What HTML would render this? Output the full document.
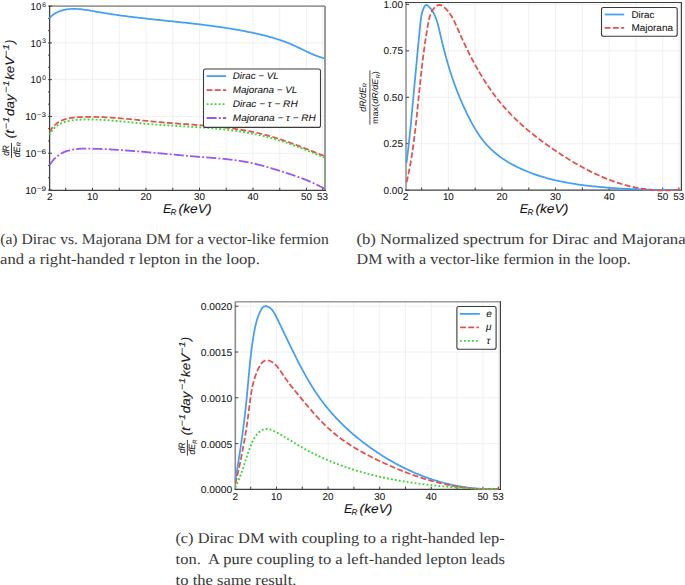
<!DOCTYPE html>
<html><head><meta charset="utf-8"><style>
html,body{margin:0;padding:0;background:#fff;width:685px;height:585px;overflow:hidden}
svg{display:block}
</style></head><body>
<svg width="685" height="585" viewBox="0 0 685 585" shape-rendering="geometricPrecision" text-rendering="geometricPrecision">
<rect width="685" height="585" fill="#fff"/>
<line x1="65.75" y1="6.1" x2="65.75" y2="190.3" stroke="#eeeeee" stroke-width="0.9" />
<line x1="92.50" y1="6.1" x2="92.50" y2="190.3" stroke="#eeeeee" stroke-width="0.9" />
<line x1="119.25" y1="6.1" x2="119.25" y2="190.3" stroke="#eeeeee" stroke-width="0.9" />
<line x1="146.00" y1="6.1" x2="146.00" y2="190.3" stroke="#eeeeee" stroke-width="0.9" />
<line x1="172.75" y1="6.1" x2="172.75" y2="190.3" stroke="#eeeeee" stroke-width="0.9" />
<line x1="199.50" y1="6.1" x2="199.50" y2="190.3" stroke="#eeeeee" stroke-width="0.9" />
<line x1="226.25" y1="6.1" x2="226.25" y2="190.3" stroke="#eeeeee" stroke-width="0.9" />
<line x1="253.00" y1="6.1" x2="253.00" y2="190.3" stroke="#eeeeee" stroke-width="0.9" />
<line x1="279.75" y1="6.1" x2="279.75" y2="190.3" stroke="#eeeeee" stroke-width="0.9" />
<line x1="306.50" y1="6.1" x2="306.50" y2="190.3" stroke="#eeeeee" stroke-width="0.9" />
<line x1="322.55" y1="6.1" x2="322.55" y2="190.3" stroke="#eeeeee" stroke-width="0.9" />
<line x1="49.6" y1="42.88" x2="325.0" y2="42.88" stroke="#eeeeee" stroke-width="0.9" />
<line x1="49.6" y1="79.66" x2="325.0" y2="79.66" stroke="#eeeeee" stroke-width="0.9" />
<line x1="49.6" y1="116.44" x2="325.0" y2="116.44" stroke="#eeeeee" stroke-width="0.9" />
<line x1="49.6" y1="153.22" x2="325.0" y2="153.22" stroke="#eeeeee" stroke-width="0.9" />
<line x1="49.6" y1="6.1" x2="325.0" y2="6.1" stroke="#9a9a9a" stroke-width="1.8" />
<line x1="325.0" y1="6.1" x2="325.0" y2="190.3" stroke="#8f8f8f" stroke-width="1.8" />
<line x1="49.6" y1="5.5" x2="49.6" y2="190.8" stroke="#3f3f3f" stroke-width="1.3" />
<line x1="49.1" y1="190.3" x2="325.9" y2="190.3" stroke="#3f3f3f" stroke-width="1.2" />
<line x1="65.75" y1="187.70000000000002" x2="65.75" y2="190.3" stroke="#3f3f3f" stroke-width="1.0" />
<line x1="92.50" y1="187.70000000000002" x2="92.50" y2="190.3" stroke="#3f3f3f" stroke-width="1.0" />
<line x1="119.25" y1="187.70000000000002" x2="119.25" y2="190.3" stroke="#3f3f3f" stroke-width="1.0" />
<line x1="146.00" y1="187.70000000000002" x2="146.00" y2="190.3" stroke="#3f3f3f" stroke-width="1.0" />
<line x1="172.75" y1="187.70000000000002" x2="172.75" y2="190.3" stroke="#3f3f3f" stroke-width="1.0" />
<line x1="199.50" y1="187.70000000000002" x2="199.50" y2="190.3" stroke="#3f3f3f" stroke-width="1.0" />
<line x1="226.25" y1="187.70000000000002" x2="226.25" y2="190.3" stroke="#3f3f3f" stroke-width="1.0" />
<line x1="253.00" y1="187.70000000000002" x2="253.00" y2="190.3" stroke="#3f3f3f" stroke-width="1.0" />
<line x1="279.75" y1="187.70000000000002" x2="279.75" y2="190.3" stroke="#3f3f3f" stroke-width="1.0" />
<line x1="306.50" y1="187.70000000000002" x2="306.50" y2="190.3" stroke="#3f3f3f" stroke-width="1.0" />
<line x1="322.55" y1="187.70000000000002" x2="322.55" y2="190.3" stroke="#3f3f3f" stroke-width="1.0" />
<line x1="48.1" y1="6.10" x2="52.0" y2="6.10" stroke="#3f3f3f" stroke-width="1.0" />
<line x1="48.1" y1="18.36" x2="49.6" y2="18.36" stroke="#3f3f3f" stroke-width="1.0" />
<line x1="48.1" y1="30.62" x2="49.6" y2="30.62" stroke="#3f3f3f" stroke-width="1.0" />
<line x1="48.1" y1="42.88" x2="52.0" y2="42.88" stroke="#3f3f3f" stroke-width="1.0" />
<line x1="48.1" y1="55.14" x2="49.6" y2="55.14" stroke="#3f3f3f" stroke-width="1.0" />
<line x1="48.1" y1="67.40" x2="49.6" y2="67.40" stroke="#3f3f3f" stroke-width="1.0" />
<line x1="48.1" y1="79.66" x2="52.0" y2="79.66" stroke="#3f3f3f" stroke-width="1.0" />
<line x1="48.1" y1="91.92" x2="49.6" y2="91.92" stroke="#3f3f3f" stroke-width="1.0" />
<line x1="48.1" y1="104.18" x2="49.6" y2="104.18" stroke="#3f3f3f" stroke-width="1.0" />
<line x1="48.1" y1="116.44" x2="52.0" y2="116.44" stroke="#3f3f3f" stroke-width="1.0" />
<line x1="48.1" y1="128.70" x2="49.6" y2="128.70" stroke="#3f3f3f" stroke-width="1.0" />
<line x1="48.1" y1="140.96" x2="49.6" y2="140.96" stroke="#3f3f3f" stroke-width="1.0" />
<line x1="48.1" y1="153.22" x2="52.0" y2="153.22" stroke="#3f3f3f" stroke-width="1.0" />
<line x1="48.1" y1="165.48" x2="49.6" y2="165.48" stroke="#3f3f3f" stroke-width="1.0" />
<line x1="48.1" y1="177.74" x2="49.6" y2="177.74" stroke="#3f3f3f" stroke-width="1.0" />
<line x1="48.1" y1="190.00" x2="52.0" y2="190.00" stroke="#3f3f3f" stroke-width="1.0" />
<path d="M49.33,18.44 L50.09,17.53 L50.88,16.68 L51.71,15.89 L52.58,15.15 L53.47,14.47 L54.38,13.83 L55.33,13.25 L56.29,12.71 L57.27,12.22 L58.27,11.77 L59.28,11.36 L60.31,10.99 L61.34,10.66 L62.37,10.36 L63.41,10.09 L64.46,9.85 L65.50,9.64 L66.55,9.46 L67.61,9.30 L68.66,9.18 L69.72,9.08 L70.78,9.00 L71.85,8.95 L72.92,8.92 L73.98,8.91 L75.06,8.92 L76.13,8.95 L77.21,9.00 L78.29,9.06 L79.37,9.14 L80.45,9.24 L81.53,9.35 L82.62,9.47 L83.70,9.61 L84.79,9.75 L85.88,9.91 L86.97,10.07 L88.06,10.25 L89.15,10.42 L90.25,10.61 L91.34,10.80 L92.43,10.99 L93.53,11.18 L94.62,11.38 L95.72,11.57 L96.81,11.77 L97.91,11.96 L99.00,12.15 L100.10,12.34 L101.19,12.53 L102.29,12.71 L103.38,12.89 L104.48,13.07 L105.57,13.25 L106.66,13.42 L107.76,13.59 L108.85,13.76 L109.95,13.93 L111.04,14.10 L112.13,14.26 L113.23,14.43 L114.32,14.59 L115.41,14.75 L116.51,14.90 L117.60,15.06 L118.69,15.21 L119.78,15.36 L120.88,15.51 L121.97,15.66 L123.06,15.81 L124.16,15.95 L125.25,16.10 L126.34,16.24 L127.43,16.38 L128.52,16.52 L129.62,16.66 L130.71,16.79 L131.80,16.93 L132.89,17.06 L133.98,17.19 L135.07,17.33 L136.16,17.46 L137.26,17.58 L138.35,17.71 L139.44,17.84 L140.53,17.97 L141.62,18.09 L142.71,18.22 L143.80,18.34 L144.89,18.46 L145.98,18.58 L147.07,18.70 L148.16,18.82 L149.25,18.94 L150.34,19.06 L151.43,19.18 L152.52,19.30 L153.61,19.41 L154.70,19.53 L155.78,19.65 L156.87,19.76 L157.96,19.88 L159.05,19.99 L160.14,20.11 L161.23,20.22 L162.32,20.34 L163.40,20.45 L164.49,20.56 L165.58,20.68 L166.67,20.79 L167.76,20.90 L168.84,21.02 L169.93,21.13 L171.02,21.24 L172.11,21.36 L173.19,21.47 L174.28,21.59 L175.37,21.70 L176.45,21.81 L177.54,21.93 L178.63,22.04 L179.71,22.16 L180.80,22.27 L181.88,22.39 L182.97,22.51 L184.06,22.62 L185.14,22.74 L186.23,22.86 L187.31,22.98 L188.40,23.10 L189.48,23.22 L190.57,23.34 L191.65,23.46 L192.74,23.58 L193.82,23.71 L194.91,23.83 L195.99,23.96 L197.07,24.08 L198.16,24.21 L199.24,24.34 L200.33,24.47 L201.41,24.60 L202.49,24.73 L203.58,24.86 L204.66,25.00 L205.74,25.13 L206.82,25.27 L207.91,25.41 L208.99,25.55 L210.07,25.69 L211.15,25.83 L212.24,25.97 L213.32,26.12 L214.40,26.27 L215.48,26.41 L216.56,26.56 L217.65,26.72 L218.73,26.87 L219.81,27.02 L220.89,27.18 L221.97,27.34 L223.05,27.50 L224.13,27.66 L225.21,27.83 L226.29,28.00 L227.37,28.16 L228.45,28.34 L229.53,28.51 L230.61,28.68 L231.69,28.86 L232.77,29.04 L233.85,29.22 L234.93,29.41 L236.01,29.59 L237.09,29.78 L238.17,29.97 L239.24,30.16 L240.32,30.36 L241.40,30.56 L242.48,30.76 L243.56,30.96 L244.64,31.17 L245.71,31.38 L246.79,31.59 L247.87,31.81 L248.95,32.02 L250.02,32.24 L251.10,32.47 L252.18,32.69 L253.25,32.92 L254.33,33.15 L255.40,33.39 L256.48,33.62 L257.56,33.87 L258.63,34.11 L259.70,34.36 L260.78,34.61 L261.85,34.87 L262.92,35.13 L263.99,35.40 L265.06,35.67 L266.13,35.94 L267.19,36.22 L268.26,36.50 L269.32,36.79 L270.38,37.09 L271.44,37.38 L272.50,37.69 L273.56,38.00 L274.61,38.31 L275.66,38.63 L276.71,38.96 L277.76,39.29 L278.80,39.63 L279.85,39.98 L280.89,40.33 L281.92,40.69 L282.96,41.05 L283.99,41.42 L285.02,41.80 L286.04,42.19 L287.07,42.58 L288.09,42.98 L289.10,43.38 L290.12,43.80 L291.12,44.22 L292.13,44.65 L293.13,45.09 L294.13,45.54 L295.12,45.99 L296.12,46.45 L297.10,46.92 L298.09,47.39 L299.08,47.86 L300.06,48.34 L301.04,48.82 L302.02,49.30 L303.01,49.78 L303.99,50.26 L304.97,50.74 L305.96,51.22 L306.94,51.69 L307.93,52.16 L308.92,52.62 L309.92,53.08 L310.91,53.53 L311.91,53.97 L312.92,54.40 L313.93,54.83 L314.95,55.24 L315.97,55.64 L317.00,56.03 L318.03,56.40 L319.07,56.76 L320.12,57.10 L321.18,57.43 L322.24,57.74 L323.32,58.03 L324.40,58.30" fill="none" stroke="#429ff5" stroke-width="1.75" stroke-linejoin="round" stroke-linecap="butt"/>
<path d="M49.57,132.07 L50.20,130.94 L50.86,129.86 L51.54,128.84 L52.26,127.88 L53.00,126.97 L53.77,126.12 L54.56,125.32 L55.38,124.56 L56.22,123.86 L57.08,123.20 L57.96,122.58 L58.87,122.01 L59.79,121.48 L60.73,120.99 L61.68,120.55 L62.66,120.13 L63.65,119.76 L64.65,119.42 L65.66,119.11 L66.69,118.83 L67.73,118.58 L68.78,118.36 L69.83,118.16 L70.90,117.98 L71.97,117.83 L73.05,117.69 L74.14,117.58 L75.23,117.47 L76.32,117.39 L77.42,117.31 L78.52,117.24 L79.62,117.19 L80.72,117.14 L81.82,117.09 L82.92,117.05 L84.02,117.02 L85.12,116.99 L86.22,116.96 L87.31,116.95 L88.41,116.93 L89.51,116.92 L90.61,116.92 L91.71,116.92 L92.80,116.93 L93.90,116.94 L95.00,116.96 L96.09,116.98 L97.19,117.00 L98.29,117.03 L99.38,117.06 L100.48,117.10 L101.57,117.14 L102.67,117.18 L103.76,117.23 L104.86,117.28 L105.95,117.33 L107.05,117.39 L108.14,117.45 L109.24,117.52 L110.33,117.59 L111.43,117.66 L112.52,117.73 L113.62,117.81 L114.71,117.88 L115.80,117.97 L116.90,118.05 L117.99,118.14 L119.09,118.22 L120.18,118.31 L121.27,118.41 L122.37,118.50 L123.46,118.60 L124.56,118.70 L125.65,118.79 L126.74,118.90 L127.84,119.00 L128.93,119.10 L130.03,119.21 L131.12,119.31 L132.21,119.42 L133.31,119.53 L134.40,119.64 L135.50,119.75 L136.59,119.86 L137.68,119.97 L138.78,120.08 L139.87,120.19 L140.97,120.30 L142.06,120.41 L143.16,120.53 L144.25,120.64 L145.35,120.75 L146.44,120.86 L147.54,120.97 L148.63,121.08 L149.73,121.19 L150.82,121.30 L151.92,121.41 L153.01,121.51 L154.11,121.62 L155.21,121.72 L156.30,121.83 L157.40,121.93 L158.50,122.03 L159.59,122.13 L160.69,122.23 L161.79,122.32 L162.89,122.42 L163.98,122.51 L165.08,122.60 L166.18,122.69 L167.28,122.78 L168.38,122.87 L169.48,122.95 L170.57,123.04 L171.67,123.12 L172.77,123.20 L173.87,123.29 L174.97,123.37 L176.07,123.45 L177.17,123.53 L178.27,123.61 L179.37,123.69 L180.47,123.77 L181.56,123.85 L182.66,123.93 L183.76,124.01 L184.86,124.08 L185.96,124.16 L187.06,124.24 L188.16,124.32 L189.26,124.40 L190.36,124.48 L191.46,124.56 L192.55,124.64 L193.65,124.72 L194.75,124.80 L195.85,124.88 L196.95,124.96 L198.04,125.04 L199.14,125.13 L200.24,125.21 L201.33,125.30 L202.43,125.39 L203.53,125.47 L204.62,125.56 L205.72,125.65 L206.82,125.75 L207.91,125.84 L209.01,125.94 L210.10,126.03 L211.20,126.13 L212.29,126.23 L213.38,126.33 L214.48,126.44 L215.57,126.54 L216.66,126.65 L217.75,126.76 L218.84,126.87 L219.94,126.99 L221.03,127.10 L222.12,127.22 L223.21,127.35 L224.30,127.47 L225.38,127.60 L226.47,127.73 L227.56,127.86 L228.65,127.99 L229.73,128.13 L230.82,128.27 L231.91,128.42 L232.99,128.57 L234.08,128.72 L235.16,128.87 L236.24,129.03 L237.32,129.19 L238.41,129.35 L239.49,129.52 L240.57,129.69 L241.65,129.87 L242.73,130.05 L243.81,130.23 L244.88,130.42 L245.96,130.61 L247.04,130.81 L248.11,131.01 L249.19,131.21 L250.26,131.42 L251.33,131.63 L252.41,131.85 L253.48,132.07 L254.55,132.30 L255.62,132.53 L256.69,132.76 L257.75,133.01 L258.82,133.25 L259.89,133.50 L260.95,133.76 L262.02,134.02 L263.08,134.28 L264.14,134.56 L265.21,134.83 L266.27,135.12 L267.33,135.40 L268.38,135.70 L269.44,135.99 L270.50,136.30 L271.56,136.60 L272.61,136.92 L273.66,137.23 L274.72,137.56 L275.77,137.88 L276.82,138.21 L277.87,138.55 L278.92,138.88 L279.97,139.23 L281.02,139.57 L282.06,139.92 L283.11,140.27 L284.15,140.63 L285.20,140.99 L286.24,141.35 L287.28,141.72 L288.32,142.09 L289.36,142.46 L290.40,142.83 L291.44,143.21 L292.47,143.59 L293.51,143.97 L294.54,144.36 L295.58,144.74 L296.61,145.13 L297.64,145.52 L298.67,145.91 L299.70,146.31 L300.73,146.70 L301.76,147.10 L302.79,147.50 L303.82,147.90 L304.84,148.30 L305.87,148.70 L306.89,149.10 L307.91,149.50 L308.93,149.91 L309.96,150.31 L310.98,150.71 L311.99,151.12 L313.01,151.52 L314.03,151.93 L315.05,152.33 L316.06,152.74 L317.08,153.14 L318.09,153.54 L319.10,153.95 L320.11,154.35 L321.12,154.75 L322.13,155.15 L323.14,155.55 L324.15,155.95" fill="none" stroke="#e4514a" stroke-width="1.75" stroke-linejoin="round" stroke-linecap="butt" stroke-dasharray="5.8 2.4"/>
<path d="M49.40,135.20 L49.98,134.04 L50.60,132.95 L51.25,131.92 L51.93,130.94 L52.63,130.01 L53.37,129.14 L54.13,128.32 L54.91,127.55 L55.72,126.83 L56.55,126.15 L57.41,125.52 L58.29,124.94 L59.18,124.39 L60.10,123.89 L61.04,123.42 L61.99,122.99 L62.96,122.60 L63.95,122.23 L64.95,121.90 L65.96,121.60 L66.99,121.33 L68.03,121.09 L69.08,120.87 L70.13,120.67 L71.20,120.50 L72.28,120.35 L73.36,120.21 L74.45,120.10 L75.54,119.99 L76.64,119.91 L77.74,119.83 L78.84,119.76 L79.94,119.71 L81.04,119.66 L82.14,119.61 L83.24,119.58 L84.35,119.55 L85.45,119.53 L86.55,119.51 L87.65,119.50 L88.75,119.50 L89.85,119.50 L90.95,119.51 L92.05,119.52 L93.15,119.54 L94.26,119.57 L95.36,119.60 L96.46,119.63 L97.56,119.67 L98.66,119.72 L99.76,119.76 L100.86,119.82 L101.96,119.87 L103.06,119.94 L104.16,120.00 L105.26,120.07 L106.36,120.14 L107.46,120.22 L108.56,120.30 L109.66,120.38 L110.76,120.47 L111.86,120.55 L112.96,120.64 L114.06,120.74 L115.16,120.83 L116.26,120.93 L117.36,121.03 L118.46,121.13 L119.56,121.24 L120.66,121.34 L121.76,121.45 L122.86,121.55 L123.96,121.66 L125.06,121.77 L126.16,121.88 L127.26,121.99 L128.36,122.10 L129.47,122.21 L130.57,122.33 L131.67,122.44 L132.77,122.55 L133.87,122.66 L134.97,122.77 L136.07,122.88 L137.17,122.99 L138.27,123.10 L139.37,123.20 L140.47,123.31 L141.57,123.41 L142.68,123.51 L143.78,123.62 L144.88,123.71 L145.98,123.81 L147.08,123.90 L148.18,124.00 L149.29,124.09 L150.39,124.18 L151.49,124.26 L152.59,124.35 L153.69,124.43 L154.80,124.51 L155.90,124.60 L157.00,124.67 L158.10,124.75 L159.21,124.83 L160.31,124.90 L161.41,124.98 L162.51,125.05 L163.61,125.12 L164.72,125.19 L165.82,125.26 L166.92,125.33 L168.02,125.40 L169.13,125.47 L170.23,125.53 L171.33,125.60 L172.43,125.67 L173.53,125.73 L174.64,125.80 L175.74,125.86 L176.84,125.93 L177.94,125.99 L179.04,126.05 L180.14,126.12 L181.24,126.18 L182.34,126.25 L183.45,126.31 L184.55,126.37 L185.65,126.44 L186.75,126.50 L187.85,126.57 L188.95,126.64 L190.05,126.70 L191.15,126.77 L192.25,126.84 L193.34,126.91 L194.44,126.98 L195.54,127.05 L196.64,127.12 L197.74,127.19 L198.84,127.26 L199.93,127.34 L201.03,127.41 L202.13,127.49 L203.22,127.57 L204.32,127.65 L205.42,127.73 L206.51,127.81 L207.61,127.90 L208.70,127.98 L209.80,128.07 L210.89,128.16 L211.99,128.25 L213.08,128.34 L214.17,128.44 L215.27,128.54 L216.36,128.64 L217.45,128.74 L218.55,128.84 L219.64,128.95 L220.73,129.06 L221.82,129.17 L222.91,129.28 L224.00,129.40 L225.09,129.52 L226.18,129.64 L227.27,129.77 L228.35,129.89 L229.44,130.02 L230.53,130.16 L231.61,130.30 L232.70,130.44 L233.79,130.58 L234.87,130.72 L235.96,130.87 L237.04,131.03 L238.12,131.18 L239.21,131.34 L240.29,131.51 L241.37,131.67 L242.45,131.85 L243.53,132.02 L244.61,132.20 L245.69,132.38 L246.77,132.57 L247.85,132.76 L248.93,132.96 L250.01,133.15 L251.08,133.36 L252.16,133.57 L253.23,133.78 L254.31,133.99 L255.38,134.22 L256.46,134.44 L257.53,134.67 L258.60,134.91 L259.67,135.15 L260.74,135.39 L261.81,135.64 L262.88,135.90 L263.95,136.16 L265.02,136.42 L266.09,136.69 L267.15,136.97 L268.22,137.25 L269.28,137.53 L270.35,137.82 L271.41,138.12 L272.47,138.42 L273.53,138.72 L274.60,139.03 L275.66,139.34 L276.71,139.66 L277.77,139.98 L278.83,140.31 L279.89,140.64 L280.94,140.97 L281.99,141.31 L283.05,141.65 L284.10,142.00 L285.15,142.35 L286.20,142.70 L287.25,143.06 L288.30,143.42 L289.34,143.78 L290.39,144.14 L291.43,144.51 L292.48,144.89 L293.52,145.26 L294.56,145.64 L295.60,146.02 L296.64,146.40 L297.68,146.79 L298.71,147.18 L299.75,147.57 L300.78,147.96 L301.81,148.36 L302.84,148.75 L303.87,149.15 L304.90,149.55 L305.93,149.96 L306.95,150.36 L307.98,150.77 L309.00,151.18 L310.02,151.59 L311.04,152.00 L312.06,152.41 L313.07,152.83 L314.09,153.24 L315.10,153.66 L316.11,154.07 L317.12,154.49 L318.13,154.91 L319.14,155.33 L320.14,155.75 L321.15,156.17 L322.15,156.59 L323.15,157.02 L324.15,157.44" fill="none" stroke="#40d63a" stroke-width="1.9" stroke-linejoin="round" stroke-linecap="butt" stroke-dasharray="1.9 2.1"/>
<line x1="324.6" y1="157.4" x2="324.6" y2="189" stroke="#40d63a" stroke-width="1.2" stroke-dasharray="1.9 2.1" opacity="0.6"/>
<path d="M49.55,165.36 L50.20,164.25 L50.89,163.19 L51.59,162.18 L52.32,161.22 L53.06,160.29 L53.83,159.42 L54.62,158.58 L55.43,157.79 L56.26,157.03 L57.10,156.32 L57.96,155.65 L58.84,155.01 L59.74,154.41 L60.65,153.85 L61.58,153.32 L62.52,152.83 L63.47,152.37 L64.44,151.94 L65.42,151.55 L66.41,151.18 L67.41,150.85 L68.42,150.54 L69.45,150.26 L70.48,150.01 L71.52,149.79 L72.57,149.58 L73.62,149.40 L74.69,149.25 L75.76,149.11 L76.83,148.99 L77.91,148.89 L79.00,148.81 L80.09,148.75 L81.19,148.69 L82.29,148.66 L83.40,148.63 L84.50,148.61 L85.61,148.61 L86.72,148.61 L87.84,148.62 L88.95,148.64 L90.07,148.66 L91.18,148.69 L92.30,148.72 L93.41,148.75 L94.52,148.78 L95.64,148.81 L96.75,148.85 L97.86,148.89 L98.97,148.93 L100.08,148.97 L101.19,149.02 L102.30,149.06 L103.41,149.11 L104.52,149.16 L105.63,149.21 L106.74,149.26 L107.84,149.32 L108.95,149.38 L110.06,149.44 L111.16,149.50 L112.27,149.56 L113.37,149.62 L114.48,149.68 L115.58,149.75 L116.69,149.82 L117.79,149.89 L118.90,149.96 L120.00,150.03 L121.10,150.10 L122.20,150.18 L123.31,150.25 L124.41,150.33 L125.51,150.41 L126.61,150.49 L127.71,150.57 L128.81,150.65 L129.91,150.73 L131.01,150.82 L132.11,150.90 L133.21,150.99 L134.31,151.08 L135.41,151.17 L136.51,151.25 L137.61,151.34 L138.70,151.43 L139.80,151.53 L140.90,151.62 L142.00,151.71 L143.10,151.81 L144.19,151.90 L145.29,151.99 L146.39,152.09 L147.48,152.19 L148.58,152.28 L149.68,152.38 L150.77,152.48 L151.87,152.58 L152.97,152.68 L154.06,152.78 L155.16,152.88 L156.26,152.98 L157.35,153.08 L158.45,153.18 L159.54,153.28 L160.64,153.38 L161.74,153.48 L162.83,153.58 L163.93,153.69 L165.02,153.79 L166.12,153.89 L167.22,153.99 L168.31,154.09 L169.41,154.20 L170.50,154.30 L171.60,154.40 L172.69,154.50 L173.79,154.60 L174.89,154.71 L175.98,154.81 L177.08,154.91 L178.18,155.01 L179.27,155.11 L180.37,155.21 L181.47,155.31 L182.56,155.41 L183.66,155.51 L184.76,155.61 L185.85,155.71 L186.95,155.80 L188.05,155.90 L189.15,156.00 L190.24,156.09 L191.34,156.19 L192.44,156.28 L193.54,156.38 L194.64,156.47 L195.74,156.56 L196.84,156.66 L197.93,156.75 L199.03,156.84 L200.13,156.93 L201.23,157.02 L202.34,157.10 L203.44,157.19 L204.54,157.28 L205.64,157.36 L206.74,157.45 L207.84,157.54 L208.94,157.62 L210.04,157.71 L211.14,157.80 L212.24,157.89 L213.35,157.98 L214.45,158.07 L215.55,158.16 L216.65,158.26 L217.75,158.35 L218.85,158.45 L219.95,158.55 L221.05,158.65 L222.15,158.75 L223.24,158.86 L224.34,158.97 L225.44,159.08 L226.54,159.19 L227.63,159.31 L228.73,159.43 L229.83,159.56 L230.92,159.68 L232.01,159.82 L233.11,159.95 L234.20,160.09 L235.29,160.24 L236.39,160.38 L237.48,160.54 L238.57,160.70 L239.65,160.86 L240.74,161.03 L241.83,161.20 L242.92,161.38 L244.00,161.56 L245.08,161.75 L246.17,161.95 L247.25,162.15 L248.33,162.36 L249.41,162.57 L250.49,162.79 L251.57,163.02 L252.64,163.26 L253.72,163.50 L254.79,163.75 L255.86,164.00 L256.93,164.26 L258.00,164.53 L259.07,164.80 L260.14,165.08 L261.21,165.36 L262.27,165.65 L263.34,165.94 L264.40,166.24 L265.46,166.54 L266.53,166.85 L267.59,167.15 L268.65,167.47 L269.71,167.78 L270.77,168.10 L271.83,168.42 L272.89,168.74 L273.94,169.06 L275.00,169.39 L276.06,169.71 L277.12,170.04 L278.17,170.37 L279.23,170.70 L280.28,171.03 L281.34,171.36 L282.39,171.69 L283.45,172.02 L284.50,172.36 L285.55,172.69 L286.60,173.03 L287.65,173.37 L288.70,173.71 L289.75,174.05 L290.80,174.40 L291.85,174.75 L292.89,175.10 L293.94,175.45 L294.98,175.81 L296.02,176.17 L297.06,176.54 L298.09,176.91 L299.13,177.28 L300.16,177.66 L301.19,178.04 L302.22,178.43 L303.25,178.82 L304.28,179.22 L305.30,179.62 L306.32,180.03 L307.34,180.45 L308.35,180.87 L309.36,181.30 L310.37,181.74 L311.38,182.18 L312.38,182.63 L313.38,183.09 L314.38,183.55 L315.38,184.02 L316.37,184.50 L317.35,184.99 L318.34,185.49 L319.32,185.99 L320.30,186.51 L321.27,187.03 L322.24,187.57 L323.21,188.11 L324.17,188.66" fill="none" stroke="#9b57f5" stroke-width="1.8" stroke-linejoin="round" stroke-linecap="butt" stroke-dasharray="10 2.2 1.9 2.2"/>
<text x="46.0" y="6.70" font-family="Liberation Sans" font-size="6.6" text-anchor="end" fill="#111" stroke="#111" stroke-width="0.06" >6</text>
<text x="41.2" y="9.90" font-family="Liberation Sans" font-size="10.0" text-anchor="end" fill="#111" stroke="#111" stroke-width="0.06" textLength="10.6" lengthAdjust="spacingAndGlyphs" >10</text>
<text x="46.0" y="43.48" font-family="Liberation Sans" font-size="6.6" text-anchor="end" fill="#111" stroke="#111" stroke-width="0.06" >3</text>
<text x="41.2" y="46.68" font-family="Liberation Sans" font-size="10.0" text-anchor="end" fill="#111" stroke="#111" stroke-width="0.06" textLength="10.6" lengthAdjust="spacingAndGlyphs" >10</text>
<text x="46.0" y="80.26" font-family="Liberation Sans" font-size="6.6" text-anchor="end" fill="#111" stroke="#111" stroke-width="0.06" >0</text>
<text x="41.2" y="83.46" font-family="Liberation Sans" font-size="10.0" text-anchor="end" fill="#111" stroke="#111" stroke-width="0.06" textLength="10.6" lengthAdjust="spacingAndGlyphs" >10</text>
<text x="46.0" y="117.04" font-family="Liberation Sans" font-size="6.6" text-anchor="end" fill="#111" stroke="#111" stroke-width="0.06" textLength="9.3" lengthAdjust="spacingAndGlyphs" >−3</text>
<text x="36.4" y="120.24" font-family="Liberation Sans" font-size="10.0" text-anchor="end" fill="#111" stroke="#111" stroke-width="0.06" textLength="11.2" lengthAdjust="spacingAndGlyphs" >10</text>
<text x="46.0" y="153.82" font-family="Liberation Sans" font-size="6.6" text-anchor="end" fill="#111" stroke="#111" stroke-width="0.06" textLength="9.3" lengthAdjust="spacingAndGlyphs" >−6</text>
<text x="36.4" y="157.02" font-family="Liberation Sans" font-size="10.0" text-anchor="end" fill="#111" stroke="#111" stroke-width="0.06" textLength="11.2" lengthAdjust="spacingAndGlyphs" >10</text>
<text x="46.0" y="190.60" font-family="Liberation Sans" font-size="6.6" text-anchor="end" fill="#111" stroke="#111" stroke-width="0.06" textLength="9.3" lengthAdjust="spacingAndGlyphs" >−9</text>
<text x="36.4" y="193.80" font-family="Liberation Sans" font-size="10.0" text-anchor="end" fill="#111" stroke="#111" stroke-width="0.06" textLength="11.2" lengthAdjust="spacingAndGlyphs" >10</text>
<text x="49.70" y="200.2" font-family="Liberation Sans" font-size="10.0" text-anchor="middle" fill="#111" stroke="#111" stroke-width="0.06" textLength="5.6" lengthAdjust="spacingAndGlyphs" >2</text>
<text x="92.50" y="200.2" font-family="Liberation Sans" font-size="10.0" text-anchor="middle" fill="#111" stroke="#111" stroke-width="0.06" textLength="11.0" lengthAdjust="spacingAndGlyphs" >10</text>
<text x="146.00" y="200.2" font-family="Liberation Sans" font-size="10.0" text-anchor="middle" fill="#111" stroke="#111" stroke-width="0.06" textLength="11.0" lengthAdjust="spacingAndGlyphs" >20</text>
<text x="199.50" y="200.2" font-family="Liberation Sans" font-size="10.0" text-anchor="middle" fill="#111" stroke="#111" stroke-width="0.06" textLength="11.0" lengthAdjust="spacingAndGlyphs" >30</text>
<text x="253.00" y="200.2" font-family="Liberation Sans" font-size="10.0" text-anchor="middle" fill="#111" stroke="#111" stroke-width="0.06" textLength="11.0" lengthAdjust="spacingAndGlyphs" >40</text>
<text x="306.50" y="200.2" font-family="Liberation Sans" font-size="10.0" text-anchor="middle" fill="#111" stroke="#111" stroke-width="0.06" textLength="11.0" lengthAdjust="spacingAndGlyphs" >50</text>
<text x="322.55" y="200.2" font-family="Liberation Sans" font-size="10.0" text-anchor="middle" fill="#111" stroke="#111" stroke-width="0.06" textLength="11.0" lengthAdjust="spacingAndGlyphs" >53</text>
<text x="162.9" y="213.4" font-family="Liberation Sans" font-size="12.6" text-anchor="start" fill="#111" stroke="#111" stroke-width="0.06" font-style="italic" >E</text>
<text x="170.6" y="215.2" font-family="Liberation Sans" font-size="8.2" text-anchor="start" fill="#111" stroke="#111" stroke-width="0.06" font-style="italic" >R</text>
<text x="178.6" y="213.4" font-family="Liberation Sans" font-size="12.6" text-anchor="start" fill="#111" stroke="#111" stroke-width="0.06" font-style="italic" textLength="32.9" lengthAdjust="spacingAndGlyphs" >(keV)</text>
<g transform="translate(14.1,138.4) rotate(-90)">
<text x="0" y="0" font-family="Liberation Sans" font-style="italic" fill="#161616" stroke="#161616" stroke-width="0.1" font-size="12.4" textLength="8.6" lengthAdjust="spacingAndGlyphs">(t</text>
<text x="9.2" y="-5.0" font-family="Liberation Sans" font-style="italic" fill="#161616" stroke="#161616" stroke-width="0.1" font-size="8.6" textLength="12.4" lengthAdjust="spacingAndGlyphs">−1</text>
<text x="45.6" y="-5.0" font-family="Liberation Sans" font-style="italic" fill="#161616" stroke="#161616" stroke-width="0.1" font-size="8.6" textLength="12.2" lengthAdjust="spacingAndGlyphs">−1</text>
<text x="81.6" y="-5.0" font-family="Liberation Sans" font-style="italic" fill="#161616" stroke="#161616" stroke-width="0.1" font-size="8.6" textLength="12.6" lengthAdjust="spacingAndGlyphs">−1</text>
<text x="22.4" y="0" font-family="Liberation Sans" font-style="italic" fill="#161616" stroke="#161616" stroke-width="0.1" font-size="12.4" textLength="21.6" lengthAdjust="spacingAndGlyphs">day</text>
<text x="58.6" y="0" font-family="Liberation Sans" font-style="italic" fill="#161616" stroke="#161616" stroke-width="0.1" font-size="12.4" textLength="23.0" lengthAdjust="spacingAndGlyphs">keV</text>
<text x="94.6" y="0" font-family="Liberation Sans" font-style="italic" fill="#161616" stroke="#161616" stroke-width="0.1" font-size="12.4" textLength="4.0" lengthAdjust="spacingAndGlyphs">)</text>
</g>
<line x1="11.5" y1="142.9" x2="11.5" y2="157.9" stroke="#2a2a2a" stroke-width="0.9"/>
<g transform="translate(8.90,150.50) rotate(-90)"><text x="0" y="0" font-family="Liberation Sans" font-style="italic" fill="#161616" stroke="#161616" stroke-width="0.1" font-size="9.2" text-anchor="middle" textLength="10.6" lengthAdjust="spacingAndGlyphs">dR</text></g>
<g transform="translate(19.50,150.30) rotate(-90)"><text x="-6.9" y="0" font-family="Liberation Sans" font-style="italic" fill="#161616" stroke="#161616" stroke-width="0.1" font-size="9.2" textLength="10.4" lengthAdjust="spacingAndGlyphs">dE</text><text x="3.8" y="1.4" font-family="Liberation Sans" font-style="italic" fill="#161616" stroke="#161616" stroke-width="0.1" font-size="6.2">R</text></g>
<rect x="203.5" y="69" width="117" height="58.4" rx="2" ry="2" fill="#fff" stroke="#3a3a3a" stroke-width="1.1"/>
<line x1="206.6" y1="76.1" x2="226.2" y2="76.1" stroke="#429ff5" stroke-width="1.75"/>
<text x="232.8" y="79.10" font-family="Liberation Sans" font-size="9.6" text-anchor="start" fill="#111" stroke="#111" stroke-width="0.06" font-style="italic" textLength="46.0" lengthAdjust="spacingAndGlyphs" >Dirac − VL</text>
<line x1="206.6" y1="90.0" x2="226.2" y2="90.0" stroke="#e4514a" stroke-width="1.75" stroke-dasharray="5.8 2.4"/>
<text x="232.8" y="93.00" font-family="Liberation Sans" font-size="9.6" text-anchor="start" fill="#111" stroke="#111" stroke-width="0.06" font-style="italic" textLength="64.4" lengthAdjust="spacingAndGlyphs" >Majorana − VL</text>
<line x1="206.6" y1="104.1" x2="226.2" y2="104.1" stroke="#40d63a" stroke-width="1.9" stroke-dasharray="1.9 2.1"/>
<text x="232.8" y="107.10" font-family="Liberation Sans" font-size="9.6" text-anchor="start" fill="#111" stroke="#111" stroke-width="0.06" font-style="italic" textLength="64.9" lengthAdjust="spacingAndGlyphs" >Dirac − τ − RH</text>
<line x1="206.6" y1="118.0" x2="226.2" y2="118.0" stroke="#9b57f5" stroke-width="1.9" stroke-dasharray="10 2.2 1.9 2.2"/>
<text x="232.8" y="121.00" font-family="Liberation Sans" font-size="9.6" text-anchor="start" fill="#111" stroke="#111" stroke-width="0.06" font-style="italic" textLength="83.0" lengthAdjust="spacingAndGlyphs" >Majorana − τ − RH</text>
<line x1="421.58" y1="2.5" x2="421.58" y2="190.1" stroke="#eeeeee" stroke-width="0.9" />
<line x1="448.38" y1="2.5" x2="448.38" y2="190.1" stroke="#eeeeee" stroke-width="0.9" />
<line x1="475.18" y1="2.5" x2="475.18" y2="190.1" stroke="#eeeeee" stroke-width="0.9" />
<line x1="501.98" y1="2.5" x2="501.98" y2="190.1" stroke="#eeeeee" stroke-width="0.9" />
<line x1="528.78" y1="2.5" x2="528.78" y2="190.1" stroke="#eeeeee" stroke-width="0.9" />
<line x1="555.58" y1="2.5" x2="555.58" y2="190.1" stroke="#eeeeee" stroke-width="0.9" />
<line x1="582.38" y1="2.5" x2="582.38" y2="190.1" stroke="#eeeeee" stroke-width="0.9" />
<line x1="609.18" y1="2.5" x2="609.18" y2="190.1" stroke="#eeeeee" stroke-width="0.9" />
<line x1="635.98" y1="2.5" x2="635.98" y2="190.1" stroke="#eeeeee" stroke-width="0.9" />
<line x1="662.78" y1="2.5" x2="662.78" y2="190.1" stroke="#eeeeee" stroke-width="0.9" />
<line x1="678.86" y1="2.5" x2="678.86" y2="190.1" stroke="#eeeeee" stroke-width="0.9" />
<line x1="406.0" y1="143.68" x2="681.4" y2="143.68" stroke="#eeeeee" stroke-width="0.9" />
<line x1="406.0" y1="97.25" x2="681.4" y2="97.25" stroke="#eeeeee" stroke-width="0.9" />
<line x1="406.0" y1="50.83" x2="681.4" y2="50.83" stroke="#eeeeee" stroke-width="0.9" />
<line x1="406.0" y1="4.40" x2="681.4" y2="4.40" stroke="#eeeeee" stroke-width="0.9" />
<line x1="406.0" y1="2.5" x2="406.0" y2="190.1" stroke="#a9a9a9" stroke-width="2.0" />
<line x1="405.0" y1="2.5" x2="682.0" y2="2.5" stroke="#3f3f3f" stroke-width="1.2" />
<line x1="681.4" y1="2.5" x2="681.4" y2="190.1" stroke="#3f3f3f" stroke-width="1.2" />
<line x1="405.0" y1="190.1" x2="682.0" y2="190.1" stroke="#3f3f3f" stroke-width="1.2" />
<line x1="421.58" y1="187.5" x2="421.58" y2="190.1" stroke="#3f3f3f" stroke-width="1.0" />
<line x1="448.38" y1="187.5" x2="448.38" y2="190.1" stroke="#3f3f3f" stroke-width="1.0" />
<line x1="475.18" y1="187.5" x2="475.18" y2="190.1" stroke="#3f3f3f" stroke-width="1.0" />
<line x1="501.98" y1="187.5" x2="501.98" y2="190.1" stroke="#3f3f3f" stroke-width="1.0" />
<line x1="528.78" y1="187.5" x2="528.78" y2="190.1" stroke="#3f3f3f" stroke-width="1.0" />
<line x1="555.58" y1="187.5" x2="555.58" y2="190.1" stroke="#3f3f3f" stroke-width="1.0" />
<line x1="582.38" y1="187.5" x2="582.38" y2="190.1" stroke="#3f3f3f" stroke-width="1.0" />
<line x1="609.18" y1="187.5" x2="609.18" y2="190.1" stroke="#3f3f3f" stroke-width="1.0" />
<line x1="635.98" y1="187.5" x2="635.98" y2="190.1" stroke="#3f3f3f" stroke-width="1.0" />
<line x1="662.78" y1="187.5" x2="662.78" y2="190.1" stroke="#3f3f3f" stroke-width="1.0" />
<line x1="678.86" y1="187.5" x2="678.86" y2="190.1" stroke="#3f3f3f" stroke-width="1.0" />
<line x1="406.0" y1="190.10" x2="409.0" y2="190.10" stroke="#3f3f3f" stroke-width="1.0" />
<line x1="406.0" y1="143.68" x2="409.0" y2="143.68" stroke="#3f3f3f" stroke-width="1.0" />
<line x1="406.0" y1="97.25" x2="409.0" y2="97.25" stroke="#3f3f3f" stroke-width="1.0" />
<line x1="406.0" y1="50.83" x2="409.0" y2="50.83" stroke="#3f3f3f" stroke-width="1.0" />
<line x1="406.0" y1="4.40" x2="409.0" y2="4.40" stroke="#3f3f3f" stroke-width="1.0" />
<path d="M406.49,162.84 L406.75,160.84 L407.01,158.84 L407.27,156.85 L407.51,154.85 L407.76,152.86 L408.00,150.87 L408.23,148.88 L408.46,146.89 L408.68,144.91 L408.91,142.93 L409.12,140.94 L409.34,138.96 L409.55,136.98 L409.76,135.00 L409.96,133.02 L410.16,131.04 L410.36,129.06 L410.56,127.08 L410.75,125.10 L410.95,123.12 L411.14,121.13 L411.33,119.15 L411.51,117.17 L411.70,115.18 L411.89,113.20 L412.07,111.21 L412.26,109.22 L412.44,107.23 L412.62,105.23 L412.81,103.24 L412.99,101.24 L413.18,99.24 L413.36,97.23 L413.55,95.23 L413.73,93.22 L413.92,91.21 L414.11,89.20 L414.29,87.18 L414.48,85.17 L414.67,83.16 L414.86,81.15 L415.04,79.14 L415.23,77.13 L415.42,75.13 L415.61,73.13 L415.80,71.14 L415.98,69.14 L416.17,67.16 L416.35,65.18 L416.54,63.21 L416.72,61.24 L416.91,59.28 L417.09,57.33 L417.27,55.39 L417.45,53.45 L417.64,51.51 L417.82,49.57 L418.00,47.63 L418.19,45.68 L418.37,43.73 L418.56,41.77 L418.75,39.79 L418.94,37.81 L419.13,35.81 L419.32,33.80 L419.52,31.77 L419.72,29.71 L419.93,27.64 L420.14,25.54 L420.35,23.42 L420.59,21.28 L420.86,19.15 L421.18,17.04 L421.56,14.97 L422.02,12.94 L422.58,10.97 L423.25,9.09 L424.04,7.30 L424.97,5.66 L426.10,4.86 L427.44,5.40 L428.78,6.55 L430.01,7.82 L431.15,9.20 L432.20,10.67 L433.16,12.24 L434.04,13.88 L434.85,15.60 L435.59,17.39 L436.28,19.23 L436.91,21.13 L437.50,23.07 L438.06,25.05 L438.58,27.06 L439.08,29.09 L439.56,31.13 L440.03,33.18 L440.49,35.23 L440.96,37.27 L441.44,39.30 L441.91,41.31 L442.40,43.32 L442.89,45.32 L443.39,47.31 L443.89,49.29 L444.40,51.27 L444.92,53.23 L445.44,55.18 L445.98,57.13 L446.52,59.07 L447.06,61.00 L447.62,62.92 L448.18,64.83 L448.76,66.74 L449.34,68.64 L449.93,70.53 L450.53,72.42 L451.14,74.30 L451.75,76.18 L452.38,78.05 L453.02,79.91 L453.67,81.77 L454.33,83.63 L455.00,85.47 L455.69,87.32 L456.38,89.16 L457.09,91.00 L457.80,92.83 L458.53,94.66 L459.28,96.48 L460.03,98.30 L460.80,100.12 L461.58,101.94 L462.38,103.75 L463.18,105.56 L464.01,107.37 L464.84,109.18 L465.69,110.99 L466.56,112.79 L467.44,114.60 L468.33,116.40 L469.25,118.20 L470.17,120.00 L471.12,121.79 L472.09,123.57 L473.07,125.34 L474.08,127.10 L475.12,128.85 L476.17,130.58 L477.25,132.29 L478.36,133.98 L479.50,135.65 L480.66,137.29 L481.86,138.91 L483.09,140.50 L484.34,142.05 L485.64,143.58 L486.97,145.07 L488.33,146.52 L489.72,147.94 L491.15,149.33 L492.61,150.68 L494.11,152.00 L495.63,153.28 L497.18,154.54 L498.75,155.76 L500.35,156.95 L501.98,158.10 L503.63,159.23 L505.30,160.33 L507.00,161.39 L508.71,162.43 L510.45,163.44 L512.20,164.42 L513.97,165.37 L515.76,166.30 L517.56,167.19 L519.37,168.07 L521.20,168.91 L523.04,169.73 L524.89,170.53 L526.74,171.30 L528.61,172.04 L530.48,172.77 L532.36,173.47 L534.25,174.14 L536.14,174.80 L538.04,175.43 L539.94,176.05 L541.85,176.64 L543.77,177.21 L545.69,177.76 L547.61,178.29 L549.54,178.80 L551.48,179.30 L553.41,179.78 L555.36,180.23 L557.30,180.68 L559.26,181.10 L561.21,181.51 L563.17,181.91 L565.13,182.29 L567.09,182.65 L569.06,183.00 L571.03,183.34 L573.01,183.66 L574.98,183.97 L576.96,184.27 L578.94,184.55 L580.92,184.83 L582.91,185.09 L584.89,185.35 L586.88,185.59 L588.87,185.82 L590.85,186.05 L592.84,186.27 L594.84,186.47 L596.83,186.68 L598.82,186.87 L600.81,187.06 L602.80,187.23 L604.79,187.41 L606.79,187.57 L608.78,187.73 L610.77,187.88 L612.76,188.03 L614.76,188.17 L616.75,188.30 L618.75,188.43 L620.74,188.55 L622.74,188.67 L624.73,188.78 L626.73,188.88 L628.72,188.98 L630.72,189.07 L632.72,189.16 L634.71,189.24 L636.71,189.32 L638.71,189.39 L640.71,189.46 L642.70,189.52 L644.70,189.58 L646.70,189.63 L648.70,189.68 L650.70,189.72 L652.70,189.77 L654.70,189.80 L656.70,189.83 L658.70,189.86 L660.70,189.89 L662.70,189.91 L664.70,189.93 L666.70,189.94 L668.70,189.95 L670.70,189.96 L672.70,189.96 L674.70,189.97 L676.70,189.96 L678.70,189.96" fill="none" stroke="#429ff5" stroke-width="1.75" stroke-linejoin="round" stroke-linecap="butt"/>
<path d="M406.60,182.28 L407.04,180.41 L407.46,178.53 L407.88,176.64 L408.28,174.75 L408.67,172.85 L409.05,170.95 L409.43,169.04 L409.79,167.13 L410.14,165.22 L410.49,163.30 L410.82,161.38 L411.15,159.46 L411.47,157.53 L411.78,155.60 L412.08,153.67 L412.37,151.73 L412.66,149.79 L412.94,147.85 L413.21,145.91 L413.48,143.96 L413.74,142.02 L414.00,140.07 L414.25,138.12 L414.49,136.17 L414.73,134.22 L414.96,132.26 L415.19,130.31 L415.42,128.36 L415.64,126.40 L415.86,124.45 L416.07,122.50 L416.28,120.54 L416.49,118.59 L416.70,116.64 L416.90,114.69 L417.10,112.74 L417.30,110.79 L417.50,108.84 L417.69,106.89 L417.89,104.95 L418.08,103.00 L418.28,101.06 L418.47,99.13 L418.67,97.19 L418.86,95.26 L419.06,93.33 L419.25,91.40 L419.45,89.47 L419.65,87.54 L419.85,85.62 L420.05,83.70 L420.25,81.78 L420.46,79.86 L420.67,77.94 L420.88,76.02 L421.09,74.10 L421.31,72.18 L421.52,70.26 L421.74,68.34 L421.97,66.41 L422.20,64.49 L422.43,62.57 L422.67,60.64 L422.91,58.71 L423.15,56.78 L423.40,54.85 L423.65,52.92 L423.91,50.98 L424.18,49.04 L424.45,47.10 L424.72,45.15 L425.00,43.20 L425.29,41.25 L425.58,39.29 L425.88,37.33 L426.18,35.36 L426.50,33.39 L426.82,31.41 L427.14,29.43 L427.47,27.44 L427.82,25.45 L428.17,23.45 L428.54,21.46 L428.97,19.49 L429.45,17.56 L430.01,15.68 L430.68,13.87 L431.46,12.13 L432.38,10.49 L433.45,8.95 L434.69,7.53 L436.12,6.27 L437.69,5.33 L439.33,4.93 L440.98,5.23 L442.60,6.10 L444.16,7.30 L445.62,8.64 L446.98,10.06 L448.24,11.53 L449.42,13.07 L450.52,14.66 L451.56,16.30 L452.54,17.99 L453.46,19.70 L454.34,21.45 L455.19,23.23 L456.01,25.02 L456.81,26.83 L457.61,28.64 L458.40,30.46 L459.20,32.28 L460.00,34.09 L460.81,35.90 L461.62,37.70 L462.45,39.50 L463.28,41.30 L464.11,43.09 L464.96,44.88 L465.81,46.66 L466.67,48.44 L467.53,50.22 L468.41,51.98 L469.29,53.75 L470.18,55.51 L471.08,57.26 L471.99,59.00 L472.91,60.74 L473.84,62.47 L474.77,64.20 L475.72,65.92 L476.68,67.63 L477.64,69.33 L478.62,71.03 L479.61,72.71 L480.61,74.39 L481.62,76.07 L482.64,77.73 L483.67,79.38 L484.71,81.03 L485.77,82.66 L486.83,84.29 L487.91,85.91 L489.00,87.51 L490.11,89.11 L491.22,90.70 L492.35,92.27 L493.49,93.84 L494.65,95.39 L495.82,96.94 L497.00,98.47 L498.20,99.99 L499.41,101.50 L500.63,102.99 L501.87,104.48 L503.13,105.95 L504.40,107.41 L505.68,108.85 L506.98,110.29 L508.29,111.71 L509.62,113.12 L510.97,114.51 L512.32,115.89 L513.69,117.26 L515.08,118.62 L516.48,119.97 L517.89,121.30 L519.31,122.63 L520.74,123.94 L522.19,125.24 L523.65,126.53 L525.12,127.81 L526.60,129.08 L528.09,130.34 L529.59,131.58 L531.11,132.82 L532.63,134.05 L534.16,135.27 L535.70,136.48 L537.25,137.68 L538.81,138.87 L540.38,140.05 L541.95,141.22 L543.54,142.38 L545.13,143.54 L546.72,144.69 L548.33,145.82 L549.94,146.95 L551.56,148.08 L553.18,149.19 L554.81,150.30 L556.44,151.40 L558.08,152.49 L559.73,153.58 L561.38,154.65 L563.03,155.72 L564.69,156.78 L566.36,157.83 L568.03,158.87 L569.71,159.90 L571.39,160.92 L573.08,161.93 L574.77,162.93 L576.47,163.92 L578.17,164.89 L579.88,165.86 L581.60,166.81 L583.32,167.74 L585.04,168.67 L586.78,169.58 L588.51,170.47 L590.26,171.35 L592.00,172.22 L593.76,173.07 L595.52,173.91 L597.29,174.73 L599.06,175.53 L600.83,176.32 L602.62,177.09 L604.41,177.84 L606.20,178.58 L608.00,179.29 L609.81,179.99 L611.62,180.67 L613.44,181.33 L615.26,181.97 L617.09,182.59 L618.93,183.19 L620.77,183.76 L622.62,184.32 L624.48,184.86 L626.34,185.37 L628.20,185.86 L630.08,186.33 L631.95,186.78 L633.84,187.20 L635.73,187.60 L637.63,187.97 L639.53,188.32 L641.44,188.65 L643.36,188.95 L645.28,189.22 L647.21,189.47 L649.14,189.69 L651.09,189.89 L653.03,190.06 L654.99,190.20 L656.95,190.31 L658.92,190.39 L660.89,190.45 L662.87,190.47 L664.86,190.47 L666.85,190.44 L668.85,190.38 L670.85,190.28 L672.87,190.16 L674.89,190.00 L676.91,189.82 L678.94,189.60" fill="none" stroke="#e4514a" stroke-width="1.75" stroke-linejoin="round" stroke-linecap="butt" stroke-dasharray="5.8 2.4"/>
<text x="403.0" y="193.60" font-family="Liberation Sans" font-size="10.0" text-anchor="end" fill="#111" stroke="#111" stroke-width="0.06" textLength="19.5" lengthAdjust="spacingAndGlyphs" >0.00</text>
<text x="403.0" y="147.18" font-family="Liberation Sans" font-size="10.0" text-anchor="end" fill="#111" stroke="#111" stroke-width="0.06" textLength="19.5" lengthAdjust="spacingAndGlyphs" >0.25</text>
<text x="403.0" y="100.75" font-family="Liberation Sans" font-size="10.0" text-anchor="end" fill="#111" stroke="#111" stroke-width="0.06" textLength="19.5" lengthAdjust="spacingAndGlyphs" >0.50</text>
<text x="403.0" y="54.33" font-family="Liberation Sans" font-size="10.0" text-anchor="end" fill="#111" stroke="#111" stroke-width="0.06" textLength="19.5" lengthAdjust="spacingAndGlyphs" >0.75</text>
<text x="403.0" y="7.90" font-family="Liberation Sans" font-size="10.0" text-anchor="end" fill="#111" stroke="#111" stroke-width="0.06" textLength="19.5" lengthAdjust="spacingAndGlyphs" >1.00</text>
<text x="405.50" y="200.1" font-family="Liberation Sans" font-size="10.0" text-anchor="middle" fill="#111" stroke="#111" stroke-width="0.06" textLength="5.6" lengthAdjust="spacingAndGlyphs" >2</text>
<text x="448.38" y="200.1" font-family="Liberation Sans" font-size="10.0" text-anchor="middle" fill="#111" stroke="#111" stroke-width="0.06" textLength="11.0" lengthAdjust="spacingAndGlyphs" >10</text>
<text x="501.98" y="200.1" font-family="Liberation Sans" font-size="10.0" text-anchor="middle" fill="#111" stroke="#111" stroke-width="0.06" textLength="11.0" lengthAdjust="spacingAndGlyphs" >20</text>
<text x="555.58" y="200.1" font-family="Liberation Sans" font-size="10.0" text-anchor="middle" fill="#111" stroke="#111" stroke-width="0.06" textLength="11.0" lengthAdjust="spacingAndGlyphs" >30</text>
<text x="609.18" y="200.1" font-family="Liberation Sans" font-size="10.0" text-anchor="middle" fill="#111" stroke="#111" stroke-width="0.06" textLength="11.0" lengthAdjust="spacingAndGlyphs" >40</text>
<text x="662.78" y="200.1" font-family="Liberation Sans" font-size="10.0" text-anchor="middle" fill="#111" stroke="#111" stroke-width="0.06" textLength="11.0" lengthAdjust="spacingAndGlyphs" >50</text>
<text x="678.86" y="200.1" font-family="Liberation Sans" font-size="10.0" text-anchor="middle" fill="#111" stroke="#111" stroke-width="0.06" textLength="11.0" lengthAdjust="spacingAndGlyphs" >53</text>
<text x="519.7" y="213.4" font-family="Liberation Sans" font-size="12.6" text-anchor="start" fill="#111" stroke="#111" stroke-width="0.06" font-style="italic" >E</text>
<text x="527.4" y="215.2" font-family="Liberation Sans" font-size="8.2" text-anchor="start" fill="#111" stroke="#111" stroke-width="0.06" font-style="italic" >R</text>
<text x="535.4" y="213.4" font-family="Liberation Sans" font-size="12.6" text-anchor="start" fill="#111" stroke="#111" stroke-width="0.06" font-style="italic" textLength="32.9" lengthAdjust="spacingAndGlyphs" >(keV)</text>
<line x1="369.9" y1="70.3" x2="369.9" y2="124.7" stroke="#222" stroke-width="0.8"/>
<g transform="translate(366.4,97.6) rotate(-90)"><text x="-14.1" y="0" font-family="Liberation Sans" font-size="9.4" font-style="italic" fill="#111" textLength="24.6" lengthAdjust="spacingAndGlyphs">dR/dE</text><text x="10.0" y="0.9" font-family="Liberation Sans" font-size="6.2" font-style="italic" fill="#111">R</text></g>
<g transform="translate(378.2,97.6) rotate(-90)"><text x="0" y="0" font-family="Liberation Sans" font-size="8.6" fill="#111" text-anchor="middle" textLength="53" lengthAdjust="spacingAndGlyphs">max(<tspan font-style="italic">dR/dE</tspan><tspan font-style="italic" font-size="5.8" dy="1.5">R</tspan><tspan dy="-1.5">)</tspan></text></g>
<rect x="601.5" y="7.5" width="75.7" height="28.8" rx="2" ry="2" fill="#fff" stroke="#3a3a3a" stroke-width="1.1"/>
<line x1="604.7" y1="14.5" x2="624.2" y2="14.5" stroke="#429ff5" stroke-width="1.75"/>
<line x1="604.7" y1="27.9" x2="624.2" y2="27.9" stroke="#e4514a" stroke-width="1.75" stroke-dasharray="5.8 2.4"/>
<text x="631.4" y="17.8" font-family="Liberation Sans" font-size="9.7" text-anchor="start" fill="#111" stroke="#111" stroke-width="0.06" textLength="23.0" lengthAdjust="spacingAndGlyphs" >Dirac</text>
<text x="631.4" y="31.0" font-family="Liberation Sans" font-size="9.7" text-anchor="start" fill="#111" stroke="#111" stroke-width="0.06" textLength="41.6" lengthAdjust="spacingAndGlyphs" >Majorana</text>
<line x1="250.68" y1="301.8" x2="250.68" y2="489.3" stroke="#eeeeee" stroke-width="0.9" />
<line x1="276.48" y1="301.8" x2="276.48" y2="489.3" stroke="#eeeeee" stroke-width="0.9" />
<line x1="302.28" y1="301.8" x2="302.28" y2="489.3" stroke="#eeeeee" stroke-width="0.9" />
<line x1="328.08" y1="301.8" x2="328.08" y2="489.3" stroke="#eeeeee" stroke-width="0.9" />
<line x1="353.88" y1="301.8" x2="353.88" y2="489.3" stroke="#eeeeee" stroke-width="0.9" />
<line x1="379.68" y1="301.8" x2="379.68" y2="489.3" stroke="#eeeeee" stroke-width="0.9" />
<line x1="405.48" y1="301.8" x2="405.48" y2="489.3" stroke="#eeeeee" stroke-width="0.9" />
<line x1="431.28" y1="301.8" x2="431.28" y2="489.3" stroke="#eeeeee" stroke-width="0.9" />
<line x1="457.08" y1="301.8" x2="457.08" y2="489.3" stroke="#eeeeee" stroke-width="0.9" />
<line x1="482.88" y1="301.8" x2="482.88" y2="489.3" stroke="#eeeeee" stroke-width="0.9" />
<line x1="498.36" y1="301.8" x2="498.36" y2="489.3" stroke="#eeeeee" stroke-width="0.9" />
<line x1="235.3" y1="443.60" x2="500.4" y2="443.60" stroke="#eeeeee" stroke-width="0.9" />
<line x1="235.3" y1="397.80" x2="500.4" y2="397.80" stroke="#eeeeee" stroke-width="0.9" />
<line x1="235.3" y1="352.00" x2="500.4" y2="352.00" stroke="#eeeeee" stroke-width="0.9" />
<line x1="235.3" y1="306.20" x2="500.4" y2="306.20" stroke="#eeeeee" stroke-width="0.9" />
<line x1="235.3" y1="301.8" x2="500.4" y2="301.8" stroke="#9a9a9a" stroke-width="1.4" />
<line x1="235.3" y1="301.8" x2="235.3" y2="489.3" stroke="#8c8c8c" stroke-width="1.6" />
<line x1="500.4" y1="301.2" x2="500.4" y2="489.3" stroke="#3f3f3f" stroke-width="1.2" />
<line x1="234.5" y1="489.3" x2="501.0" y2="489.3" stroke="#3f3f3f" stroke-width="1.2" />
<line x1="250.68" y1="486.7" x2="250.68" y2="489.3" stroke="#3f3f3f" stroke-width="1.0" />
<line x1="276.48" y1="486.7" x2="276.48" y2="489.3" stroke="#3f3f3f" stroke-width="1.0" />
<line x1="302.28" y1="486.7" x2="302.28" y2="489.3" stroke="#3f3f3f" stroke-width="1.0" />
<line x1="328.08" y1="486.7" x2="328.08" y2="489.3" stroke="#3f3f3f" stroke-width="1.0" />
<line x1="353.88" y1="486.7" x2="353.88" y2="489.3" stroke="#3f3f3f" stroke-width="1.0" />
<line x1="379.68" y1="486.7" x2="379.68" y2="489.3" stroke="#3f3f3f" stroke-width="1.0" />
<line x1="405.48" y1="486.7" x2="405.48" y2="489.3" stroke="#3f3f3f" stroke-width="1.0" />
<line x1="431.28" y1="486.7" x2="431.28" y2="489.3" stroke="#3f3f3f" stroke-width="1.0" />
<line x1="457.08" y1="486.7" x2="457.08" y2="489.3" stroke="#3f3f3f" stroke-width="1.0" />
<line x1="482.88" y1="486.7" x2="482.88" y2="489.3" stroke="#3f3f3f" stroke-width="1.0" />
<line x1="498.36" y1="486.7" x2="498.36" y2="489.3" stroke="#3f3f3f" stroke-width="1.0" />
<line x1="235.3" y1="489.40" x2="238.3" y2="489.40" stroke="#3f3f3f" stroke-width="1.0" />
<line x1="235.3" y1="443.60" x2="238.3" y2="443.60" stroke="#3f3f3f" stroke-width="1.0" />
<line x1="235.3" y1="397.80" x2="238.3" y2="397.80" stroke="#3f3f3f" stroke-width="1.0" />
<line x1="235.3" y1="352.00" x2="238.3" y2="352.00" stroke="#3f3f3f" stroke-width="1.0" />
<line x1="235.3" y1="306.20" x2="238.3" y2="306.20" stroke="#3f3f3f" stroke-width="1.0" />
<path d="M235.30,480.60 L235.62,478.71 L235.93,476.82 L236.25,474.94 L236.56,473.05 L236.88,471.16 L237.18,469.27 L237.49,467.38 L237.80,465.49 L238.10,463.60 L238.40,461.71 L238.70,459.81 L238.99,457.92 L239.29,456.03 L239.58,454.14 L239.86,452.25 L240.15,450.35 L240.43,448.46 L240.71,446.57 L240.98,444.67 L241.26,442.78 L241.53,440.89 L241.79,438.99 L242.06,437.10 L242.32,435.20 L242.58,433.30 L242.83,431.41 L243.08,429.51 L243.33,427.61 L243.57,425.72 L243.81,423.82 L244.05,421.92 L244.28,420.02 L244.51,418.12 L244.74,416.22 L244.96,414.32 L245.18,412.42 L245.40,410.52 L245.61,408.61 L245.81,406.71 L246.02,404.81 L246.22,402.90 L246.41,401.00 L246.60,399.09 L246.79,397.19 L246.97,395.28 L247.15,393.37 L247.33,391.46 L247.51,389.56 L247.68,387.65 L247.85,385.74 L248.02,383.83 L248.20,381.93 L248.37,380.02 L248.54,378.11 L248.71,376.20 L248.89,374.30 L249.07,372.39 L249.25,370.48 L249.43,368.58 L249.62,366.67 L249.81,364.77 L250.00,362.87 L250.20,360.96 L250.40,359.06 L250.62,357.16 L250.83,355.26 L251.06,353.36 L251.29,351.47 L251.52,349.57 L251.77,347.68 L252.03,345.78 L252.29,343.89 L252.56,342.00 L252.85,340.12 L253.14,338.23 L253.44,336.35 L253.76,334.46 L254.09,332.58 L254.43,330.71 L254.79,328.83 L255.18,326.96 L255.59,325.09 L256.05,323.23 L256.54,321.37 L257.09,319.52 L257.68,317.67 L258.34,315.83 L259.06,314.00 L259.85,312.18 L260.72,310.37 L261.70,308.64 L262.87,307.23 L264.30,306.37 L265.96,306.17 L267.69,306.59 L269.30,307.41 L270.75,308.50 L272.04,309.84 L273.20,311.35 L274.26,313.01 L275.23,314.77 L276.16,316.58 L277.05,318.40 L277.92,320.19 L278.79,321.97 L279.64,323.73 L280.48,325.47 L281.32,327.20 L282.14,328.91 L282.96,330.62 L283.78,332.32 L284.59,334.01 L285.41,335.70 L286.22,337.39 L287.03,339.08 L287.85,340.77 L288.66,342.47 L289.48,344.17 L290.31,345.88 L291.14,347.59 L291.97,349.30 L292.81,351.01 L293.65,352.72 L294.50,354.43 L295.35,356.15 L296.21,357.86 L297.07,359.57 L297.94,361.29 L298.82,362.99 L299.71,364.70 L300.60,366.41 L301.50,368.11 L302.41,369.81 L303.33,371.50 L304.26,373.19 L305.20,374.88 L306.14,376.56 L307.10,378.23 L308.06,379.90 L309.04,381.56 L310.03,383.21 L311.03,384.86 L312.04,386.50 L313.06,388.13 L314.10,389.75 L315.14,391.36 L316.20,392.96 L317.28,394.55 L318.37,396.12 L319.47,397.69 L320.58,399.25 L321.71,400.79 L322.86,402.32 L324.02,403.84 L325.19,405.34 L326.38,406.83 L327.59,408.31 L328.81,409.77 L330.04,411.23 L331.29,412.67 L332.55,414.09 L333.83,415.51 L335.11,416.91 L336.41,418.30 L337.73,419.68 L339.06,421.04 L340.40,422.40 L341.75,423.74 L343.11,425.07 L344.49,426.39 L345.88,427.69 L347.28,428.99 L348.69,430.27 L350.11,431.54 L351.55,432.80 L352.99,434.05 L354.45,435.29 L355.91,436.52 L357.39,437.73 L358.87,438.94 L360.37,440.13 L361.87,441.32 L363.39,442.49 L364.91,443.65 L366.45,444.80 L367.99,445.94 L369.54,447.07 L371.10,448.19 L372.67,449.29 L374.25,450.39 L375.84,451.47 L377.43,452.54 L379.04,453.59 L380.65,454.64 L382.27,455.67 L383.90,456.69 L385.54,457.69 L387.18,458.69 L388.84,459.67 L390.50,460.63 L392.17,461.59 L393.84,462.53 L395.53,463.45 L397.22,464.37 L398.91,465.26 L400.62,466.15 L402.33,467.02 L404.05,467.87 L405.78,468.71 L407.51,469.54 L409.25,470.35 L410.99,471.15 L412.74,471.93 L414.50,472.69 L416.27,473.44 L418.04,474.18 L419.81,474.90 L421.59,475.60 L423.38,476.29 L425.17,476.96 L426.97,477.62 L428.78,478.25 L430.59,478.88 L432.40,479.48 L434.22,480.07 L436.04,480.64 L437.87,481.20 L439.71,481.73 L441.54,482.25 L443.39,482.76 L445.23,483.24 L447.09,483.71 L448.94,484.16 L450.80,484.59 L452.67,485.00 L454.53,485.40 L456.41,485.77 L458.28,486.13 L460.16,486.47 L462.04,486.79 L463.93,487.09 L465.82,487.37 L467.71,487.63 L469.60,487.87 L471.50,488.10 L473.40,488.30 L475.30,488.48 L477.21,488.64 L479.12,488.79 L481.03,488.91 L482.94,489.01 L484.86,489.09 L486.78,489.15 L488.69,489.19 L490.62,489.21 L492.54,489.21 L494.46,489.18 L496.39,489.14 L498.32,489.07" fill="none" stroke="#429ff5" stroke-width="1.75" stroke-linejoin="round" stroke-linecap="butt"/>
<path d="M235.36,483.73 L235.74,482.19 L236.11,480.65 L236.48,479.12 L236.84,477.58 L237.20,476.04 L237.56,474.50 L237.91,472.97 L238.25,471.43 L238.60,469.89 L238.94,468.35 L239.27,466.81 L239.60,465.27 L239.93,463.73 L240.25,462.20 L240.57,460.66 L240.89,459.11 L241.20,457.57 L241.51,456.03 L241.81,454.49 L242.11,452.95 L242.41,451.41 L242.70,449.86 L242.99,448.32 L243.27,446.78 L243.55,445.23 L243.83,443.69 L244.10,442.14 L244.37,440.59 L244.64,439.05 L244.90,437.50 L245.16,435.95 L245.41,434.40 L245.66,432.85 L245.91,431.30 L246.15,429.75 L246.39,428.19 L246.63,426.64 L246.86,425.08 L247.09,423.53 L247.31,421.97 L247.53,420.41 L247.75,418.86 L247.96,417.30 L248.17,415.74 L248.38,414.17 L248.58,412.61 L248.78,411.05 L248.98,409.48 L249.17,407.92 L249.36,406.35 L249.55,404.78 L249.75,403.21 L249.95,401.65 L250.15,400.08 L250.36,398.51 L250.58,396.95 L250.81,395.39 L251.05,393.83 L251.31,392.27 L251.59,390.71 L251.88,389.16 L252.19,387.61 L252.52,386.06 L252.87,384.52 L253.25,382.98 L253.66,381.45 L254.09,379.92 L254.55,378.40 L255.04,376.88 L255.57,375.37 L256.13,373.86 L256.73,372.36 L257.37,370.87 L258.04,369.38 L258.76,367.91 L259.52,366.45 L260.34,365.06 L261.21,363.76 L262.16,362.62 L263.17,361.67 L264.27,360.95 L265.46,360.51 L266.73,360.34 L268.04,360.43 L269.37,360.74 L270.69,361.25 L271.96,361.92 L273.19,362.74 L274.37,363.69 L275.50,364.76 L276.60,365.93 L277.66,367.18 L278.70,368.50 L279.70,369.88 L280.69,371.30 L281.66,372.74 L282.62,374.19 L283.57,375.63 L284.51,377.05 L285.46,378.43 L286.41,379.78 L287.36,381.10 L288.31,382.38 L289.26,383.64 L290.22,384.87 L291.17,386.09 L292.13,387.29 L293.09,388.47 L294.06,389.65 L295.02,390.83 L295.99,392.00 L296.96,393.18 L297.94,394.36 L298.91,395.54 L299.89,396.73 L300.88,397.93 L301.86,399.13 L302.85,400.33 L303.85,401.53 L304.84,402.73 L305.85,403.94 L306.85,405.14 L307.87,406.35 L308.89,407.55 L309.91,408.75 L310.94,409.95 L311.97,411.15 L313.02,412.34 L314.06,413.53 L315.12,414.72 L316.18,415.90 L317.25,417.07 L318.33,418.24 L319.41,419.39 L320.50,420.55 L321.61,421.69 L322.72,422.82 L323.83,423.94 L324.96,425.06 L326.10,426.16 L327.24,427.25 L328.40,428.33 L329.57,429.39 L330.74,430.44 L331.93,431.48 L333.13,432.50 L334.33,433.51 L335.55,434.50 L336.78,435.48 L338.02,436.45 L339.26,437.40 L340.52,438.34 L341.78,439.27 L343.06,440.19 L344.34,441.09 L345.63,441.98 L346.93,442.86 L348.23,443.73 L349.55,444.59 L350.87,445.44 L352.20,446.28 L353.53,447.10 L354.87,447.92 L356.22,448.72 L357.58,449.52 L358.94,450.31 L360.31,451.09 L361.68,451.86 L363.06,452.62 L364.44,453.37 L365.83,454.12 L367.22,454.86 L368.62,455.59 L370.02,456.31 L371.43,457.02 L372.84,457.73 L374.25,458.44 L375.67,459.13 L377.09,459.82 L378.51,460.51 L379.93,461.19 L381.36,461.86 L382.79,462.53 L384.23,463.20 L385.66,463.85 L387.10,464.50 L388.54,465.15 L389.99,465.79 L391.43,466.42 L392.88,467.05 L394.33,467.67 L395.79,468.29 L397.25,468.90 L398.71,469.50 L400.17,470.09 L401.63,470.68 L403.10,471.26 L404.57,471.83 L406.04,472.40 L407.51,472.96 L408.99,473.51 L410.47,474.05 L411.95,474.59 L413.43,475.12 L414.92,475.64 L416.41,476.15 L417.90,476.66 L419.39,477.15 L420.89,477.64 L422.38,478.12 L423.89,478.59 L425.39,479.06 L426.89,479.51 L428.40,479.95 L429.91,480.39 L431.42,480.82 L432.93,481.24 L434.45,481.64 L435.97,482.04 L437.49,482.43 L439.01,482.81 L440.54,483.18 L442.06,483.54 L443.59,483.89 L445.12,484.23 L446.66,484.56 L448.19,484.88 L449.73,485.19 L451.27,485.49 L452.81,485.78 L454.36,486.06 L455.90,486.32 L457.45,486.58 L459.00,486.82 L460.55,487.06 L462.10,487.28 L463.66,487.49 L465.22,487.69 L466.78,487.88 L468.34,488.05 L469.90,488.22 L471.47,488.37 L473.04,488.51 L474.61,488.64 L476.18,488.75 L477.75,488.86 L479.33,488.95 L480.91,489.03 L482.48,489.09 L484.07,489.15 L485.65,489.19 L487.23,489.21 L488.82,489.23 L490.41,489.23 L492.00,489.22 L493.59,489.19 L495.18,489.15 L496.78,489.10 L498.37,489.03" fill="none" stroke="#e4514a" stroke-width="1.75" stroke-linejoin="round" stroke-linecap="butt" stroke-dasharray="5.8 2.4"/>
<path d="M235.24,487.42 L235.83,486.27 L236.39,485.13 L236.94,483.99 L237.47,482.86 L237.97,481.73 L238.47,480.60 L238.94,479.47 L239.40,478.35 L239.85,477.23 L240.28,476.12 L240.70,475.00 L241.11,473.89 L241.51,472.78 L241.90,471.67 L242.28,470.56 L242.66,469.45 L243.03,468.34 L243.40,467.23 L243.76,466.12 L244.11,465.01 L244.47,463.90 L244.82,462.79 L245.18,461.67 L245.54,460.56 L245.89,459.44 L246.25,458.32 L246.62,457.20 L246.99,456.07 L247.36,454.94 L247.75,453.81 L248.14,452.67 L248.54,451.53 L248.95,450.38 L249.37,449.23 L249.80,448.07 L250.24,446.91 L250.70,445.75 L251.18,444.58 L251.67,443.41 L252.19,442.25 L252.74,441.10 L253.31,439.97 L253.91,438.86 L254.54,437.77 L255.22,436.71 L255.93,435.69 L256.69,434.71 L257.49,433.77 L258.34,432.87 L259.24,432.03 L260.19,431.25 L261.18,430.56 L262.19,429.97 L263.23,429.51 L264.28,429.19 L265.34,429.00 L266.40,428.93 L267.48,428.98 L268.55,429.13 L269.63,429.37 L270.72,429.70 L271.80,430.09 L272.89,430.54 L273.97,431.04 L275.06,431.58 L276.14,432.15 L277.22,432.73 L278.29,433.32 L279.35,433.92 L280.42,434.52 L281.47,435.13 L282.53,435.74 L283.58,436.36 L284.63,436.98 L285.67,437.61 L286.72,438.24 L287.76,438.87 L288.80,439.50 L289.84,440.14 L290.87,440.77 L291.91,441.40 L292.94,442.04 L293.98,442.67 L295.02,443.30 L296.05,443.93 L297.09,444.55 L298.13,445.17 L299.17,445.79 L300.21,446.40 L301.26,447.01 L302.30,447.61 L303.35,448.21 L304.41,448.80 L305.46,449.38 L306.52,449.96 L307.58,450.53 L308.64,451.10 L309.71,451.66 L310.78,452.22 L311.85,452.77 L312.92,453.31 L313.99,453.85 L315.07,454.38 L316.15,454.91 L317.23,455.43 L318.31,455.95 L319.40,456.46 L320.49,456.97 L321.58,457.47 L322.67,457.97 L323.77,458.46 L324.87,458.95 L325.97,459.43 L327.07,459.90 L328.17,460.37 L329.28,460.84 L330.38,461.30 L331.49,461.75 L332.61,462.20 L333.72,462.65 L334.84,463.09 L335.95,463.52 L337.07,463.95 L338.19,464.38 L339.32,464.80 L340.44,465.22 L341.57,465.63 L342.70,466.03 L343.83,466.43 L344.96,466.83 L346.10,467.22 L347.23,467.61 L348.37,467.99 L349.51,468.37 L350.65,468.75 L351.80,469.12 L352.94,469.48 L354.09,469.84 L355.23,470.20 L356.38,470.55 L357.53,470.90 L358.69,471.24 L359.84,471.58 L360.99,471.91 L362.15,472.24 L363.31,472.57 L364.47,472.89 L365.63,473.21 L366.79,473.52 L367.96,473.83 L369.12,474.14 L370.29,474.44 L371.45,474.74 L372.62,475.03 L373.79,475.32 L374.96,475.60 L376.14,475.89 L377.31,476.16 L378.49,476.44 L379.66,476.71 L380.84,476.97 L382.02,477.24 L383.20,477.49 L384.38,477.75 L385.56,478.00 L386.74,478.25 L387.92,478.49 L389.11,478.73 L390.29,478.97 L391.48,479.20 L392.67,479.43 L393.85,479.66 L395.04,479.88 L396.23,480.10 L397.42,480.32 L398.61,480.53 L399.81,480.74 L401.00,480.95 L402.19,481.15 L403.39,481.35 L404.58,481.55 L405.78,481.74 L406.97,481.93 L408.17,482.12 L409.37,482.30 L410.57,482.49 L411.76,482.66 L412.96,482.84 L414.16,483.01 L415.36,483.18 L416.56,483.35 L417.76,483.51 L418.97,483.67 L420.17,483.83 L421.37,483.99 L422.57,484.14 L423.78,484.29 L424.98,484.43 L426.18,484.58 L427.39,484.72 L428.59,484.86 L429.79,485.00 L431.00,485.13 L432.20,485.26 L433.41,485.39 L434.61,485.52 L435.82,485.64 L437.02,485.76 L438.23,485.88 L439.43,486.00 L440.64,486.11 L441.85,486.23 L443.05,486.34 L444.26,486.44 L445.46,486.55 L446.67,486.65 L447.87,486.75 L449.08,486.85 L450.28,486.95 L451.49,487.05 L452.69,487.14 L453.90,487.23 L455.10,487.32 L456.31,487.41 L457.51,487.49 L458.71,487.58 L459.92,487.66 L461.12,487.74 L462.32,487.81 L463.52,487.89 L464.73,487.97 L465.93,488.04 L467.13,488.11 L468.33,488.18 L469.53,488.25 L470.73,488.31 L471.93,488.38 L473.13,488.44 L474.32,488.50 L475.52,488.56 L476.72,488.62 L477.91,488.68 L479.11,488.74 L480.30,488.79 L481.50,488.84 L482.69,488.90 L483.89,488.95 L485.08,489.00 L486.27,489.04 L487.46,489.09 L488.65,489.14 L489.84,489.18 L491.03,489.23 L492.21,489.27 L493.40,489.31 L494.58,489.35 L495.77,489.39 L496.95,489.43 L498.13,489.47" fill="none" stroke="#40d63a" stroke-width="1.9" stroke-linejoin="round" stroke-linecap="butt" stroke-dasharray="1.9 2.1"/>
<text x="232.3" y="493.40" font-family="Liberation Sans" font-size="10.0" text-anchor="end" fill="#111" stroke="#111" stroke-width="0.06" textLength="31.6" lengthAdjust="spacingAndGlyphs" >0.0000</text>
<text x="232.3" y="447.60" font-family="Liberation Sans" font-size="10.0" text-anchor="end" fill="#111" stroke="#111" stroke-width="0.06" textLength="31.6" lengthAdjust="spacingAndGlyphs" >0.0005</text>
<text x="232.3" y="401.80" font-family="Liberation Sans" font-size="10.0" text-anchor="end" fill="#111" stroke="#111" stroke-width="0.06" textLength="31.6" lengthAdjust="spacingAndGlyphs" >0.0010</text>
<text x="232.3" y="356.00" font-family="Liberation Sans" font-size="10.0" text-anchor="end" fill="#111" stroke="#111" stroke-width="0.06" textLength="31.6" lengthAdjust="spacingAndGlyphs" >0.0015</text>
<text x="232.3" y="310.20" font-family="Liberation Sans" font-size="10.0" text-anchor="end" fill="#111" stroke="#111" stroke-width="0.06" textLength="31.6" lengthAdjust="spacingAndGlyphs" >0.0020</text>
<text x="235.20" y="499.5" font-family="Liberation Sans" font-size="10.0" text-anchor="middle" fill="#111" stroke="#111" stroke-width="0.06" textLength="5.6" lengthAdjust="spacingAndGlyphs" >2</text>
<text x="276.48" y="499.5" font-family="Liberation Sans" font-size="10.0" text-anchor="middle" fill="#111" stroke="#111" stroke-width="0.06" textLength="11.0" lengthAdjust="spacingAndGlyphs" >10</text>
<text x="328.08" y="499.5" font-family="Liberation Sans" font-size="10.0" text-anchor="middle" fill="#111" stroke="#111" stroke-width="0.06" textLength="11.0" lengthAdjust="spacingAndGlyphs" >20</text>
<text x="379.68" y="499.5" font-family="Liberation Sans" font-size="10.0" text-anchor="middle" fill="#111" stroke="#111" stroke-width="0.06" textLength="11.0" lengthAdjust="spacingAndGlyphs" >30</text>
<text x="431.28" y="499.5" font-family="Liberation Sans" font-size="10.0" text-anchor="middle" fill="#111" stroke="#111" stroke-width="0.06" textLength="11.0" lengthAdjust="spacingAndGlyphs" >40</text>
<text x="482.88" y="499.5" font-family="Liberation Sans" font-size="10.0" text-anchor="middle" fill="#111" stroke="#111" stroke-width="0.06" textLength="11.0" lengthAdjust="spacingAndGlyphs" >50</text>
<text x="498.36" y="499.5" font-family="Liberation Sans" font-size="10.0" text-anchor="middle" fill="#111" stroke="#111" stroke-width="0.06" textLength="11.0" lengthAdjust="spacingAndGlyphs" >53</text>
<text x="344.0" y="513.4" font-family="Liberation Sans" font-size="12.6" text-anchor="start" fill="#111" stroke="#111" stroke-width="0.06" font-style="italic" >E</text>
<text x="351.6" y="515.2" font-family="Liberation Sans" font-size="8.2" text-anchor="start" fill="#111" stroke="#111" stroke-width="0.06" font-style="italic" >R</text>
<text x="359.6" y="513.4" font-family="Liberation Sans" font-size="12.6" text-anchor="start" fill="#111" stroke="#111" stroke-width="0.06" font-style="italic" textLength="32.8" lengthAdjust="spacingAndGlyphs" >(keV)</text>
<g transform="translate(190.2,435.6) rotate(-90)">
<text x="0" y="0" font-family="Liberation Sans" font-style="italic" fill="#161616" stroke="#161616" stroke-width="0.1" font-size="12.4" textLength="8.6" lengthAdjust="spacingAndGlyphs">(t</text>
<text x="9.2" y="-5.0" font-family="Liberation Sans" font-style="italic" fill="#161616" stroke="#161616" stroke-width="0.1" font-size="8.6" textLength="12.4" lengthAdjust="spacingAndGlyphs">−1</text>
<text x="45.6" y="-5.0" font-family="Liberation Sans" font-style="italic" fill="#161616" stroke="#161616" stroke-width="0.1" font-size="8.6" textLength="12.2" lengthAdjust="spacingAndGlyphs">−1</text>
<text x="81.6" y="-5.0" font-family="Liberation Sans" font-style="italic" fill="#161616" stroke="#161616" stroke-width="0.1" font-size="8.6" textLength="12.6" lengthAdjust="spacingAndGlyphs">−1</text>
<text x="22.4" y="0" font-family="Liberation Sans" font-style="italic" fill="#161616" stroke="#161616" stroke-width="0.1" font-size="12.4" textLength="21.6" lengthAdjust="spacingAndGlyphs">day</text>
<text x="58.6" y="0" font-family="Liberation Sans" font-style="italic" fill="#161616" stroke="#161616" stroke-width="0.1" font-size="12.4" textLength="23.0" lengthAdjust="spacingAndGlyphs">keV</text>
<text x="94.6" y="0" font-family="Liberation Sans" font-style="italic" fill="#161616" stroke="#161616" stroke-width="0.1" font-size="12.4" textLength="4.0" lengthAdjust="spacingAndGlyphs">)</text>
</g>
<line x1="187.4" y1="439.9" x2="187.4" y2="455.7" stroke="#2a2a2a" stroke-width="0.9"/>
<g transform="translate(184.80,447.90) rotate(-90)"><text x="0" y="0" font-family="Liberation Sans" font-style="italic" fill="#161616" stroke="#161616" stroke-width="0.1" font-size="9.2" text-anchor="middle" textLength="10.6" lengthAdjust="spacingAndGlyphs">dR</text></g>
<g transform="translate(195.40,447.70) rotate(-90)"><text x="-6.9" y="0" font-family="Liberation Sans" font-style="italic" fill="#161616" stroke="#161616" stroke-width="0.1" font-size="9.2" textLength="10.4" lengthAdjust="spacingAndGlyphs">dE</text><text x="3.8" y="1.4" font-family="Liberation Sans" font-style="italic" fill="#161616" stroke="#161616" stroke-width="0.1" font-size="6.2">R</text></g>
<rect x="456.9" y="306.5" width="39.2" height="42.8" rx="2" ry="2" fill="#fff" stroke="#3a3a3a" stroke-width="1.1"/>
<line x1="459.9" y1="313.9" x2="479.9" y2="313.9" stroke="#429ff5" stroke-width="1.75"/>
<line x1="460.1" y1="327.3" x2="478.9" y2="327.3" stroke="#e4514a" stroke-width="1.75" stroke-dasharray="5.8 2.4"/>
<line x1="459.9" y1="340.9" x2="479.9" y2="340.9" stroke="#40d63a" stroke-width="1.9" stroke-dasharray="1.9 2.1"/>
<text x="486.3" y="316.9" font-family="Liberation Sans" font-size="10.0" text-anchor="start" fill="#111" stroke="#111" stroke-width="0.06" font-style="italic" >e</text>
<text x="486.0" y="330.3" font-family="Liberation Sans" font-size="10.0" text-anchor="start" fill="#111" stroke="#111" stroke-width="0.06" font-style="italic" >μ</text>
<text x="486.6" y="343.9" font-family="Liberation Sans" font-size="10.0" text-anchor="start" fill="#111" stroke="#111" stroke-width="0.06" font-style="italic" >τ</text>
<text x="0.2" y="243.8" font-family="Liberation Serif" font-size="15" fill="#383838" textLength="328.6" lengthAdjust="spacingAndGlyphs" xml:space="preserve">(a) Dirac vs. Majorana DM for a vector-like fermion</text>
<text x="0.0" y="264.3" font-family="Liberation Serif" font-size="15" fill="#383838" textLength="259.8" lengthAdjust="spacingAndGlyphs" xml:space="preserve">and a right-handed <tspan font-style="italic">τ</tspan> lepton in the loop.</text>
<text x="356.4" y="243.7" font-family="Liberation Serif" font-size="15" fill="#383838" textLength="329.2" lengthAdjust="spacingAndGlyphs" xml:space="preserve">(b) Normalized spectrum for Dirac and Majorana</text>
<text x="356.6" y="264.4" font-family="Liberation Serif" font-size="15" fill="#383838" textLength="274.2" lengthAdjust="spacingAndGlyphs" xml:space="preserve">DM with a vector-like fermion in the loop.</text>
<text x="175.4" y="543.0" font-family="Liberation Serif" font-size="15" fill="#383838" textLength="329.2" lengthAdjust="spacingAndGlyphs" xml:space="preserve">(c) Dirac DM with coupling to a right-handed lep-</text>
<text x="175.6" y="564.0" font-family="Liberation Serif" font-size="15" fill="#383838" textLength="329.4" lengthAdjust="spacingAndGlyphs" xml:space="preserve">ton.  A pure coupling to a left-handed lepton leads</text>
<text x="175.6" y="584.5" font-family="Liberation Serif" font-size="15" fill="#383838" textLength="120.8" lengthAdjust="spacingAndGlyphs" xml:space="preserve">to the same result.</text>
</svg>
</body></html>
